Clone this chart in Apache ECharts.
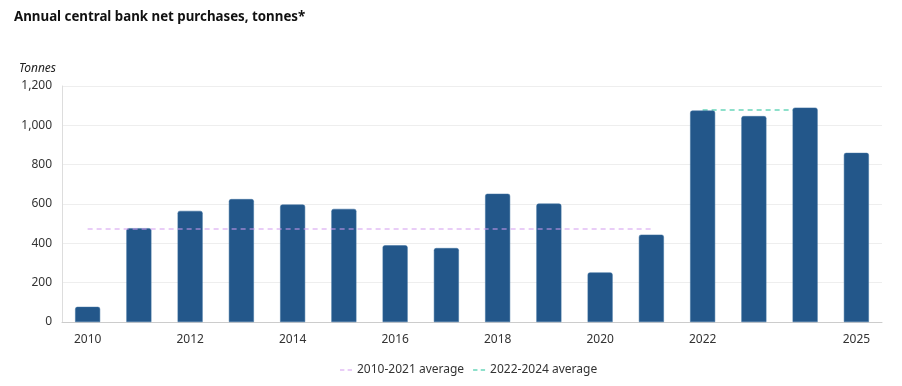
<!DOCTYPE html>
<html><head><meta charset="utf-8">
<script src="https://cdn.jsdelivr.net/npm/echarts@6/dist/echarts.min.js"></script>
<style>html,body{margin:0;padding:0;background:#fff}#c{width:902px;height:386px}</style>
</head><body><div id="c"></div>
<script>
const years = ['2010','2011','2012','2013','2014','2015','2016','2017','2018','2019','2020','2021','2022','2023','2024','2025'];
const purchases = [77, 477, 565, 625, 597, 575, 390, 376, 652, 602, 252, 444, 1075, 1047, 1090, 860];
const avg2010_2021 = [473, 473, 473, 473, 473, 473, 473, 473, 473, 473, 473, 473, null, null, null, null];
const avg2022_2024 = [null, null, null, null, null, null, null, null, null, null, null, null, 1078, 1078, 1078, null];
const xLabelsShown = ['2010','2012','2014','2016','2018','2020','2022','2025'];
const yTicks = [0, 200, 400, 600, 800, 1000, 1200];

const chart = echarts.init(document.getElementById('c'));
const font = '"Noto Sans", "Open Sans", sans-serif';
chart.setOption({
  animation: false,
  textStyle: {fontFamily: font},
  title: {
    text: 'Annual central bank net purchases, tonnes*',
    left: 9, top: 6,
    textStyle: {fontSize: 13.3, fontWeight: 'bold', color: '#111', fontFamily: font}
  },
  legend: {
    bottom: 5, left: 335,
    itemWidth: 12, itemHeight: 8, itemGap: 9,
    textStyle: {fontSize: 12, color: '#333'},
    data: [
      {name: '2010-2021 average', icon: 'path://M0,4 L4,4 L4,5 L0,5 Z M7,4 L11,4 L11,5 L7,5 Z'},
      {name: '2022-2024 average', icon: 'path://M0,4 L4,4 L4,5 L0,5 Z M7,4 L11,4 L11,5 L7,5 Z'}
    ]
  },
  grid: {left: 62, right: 20, top: 86, bottom: 64, containLabel: false},
  xAxis: {
    type: 'category', data: years, boundaryGap: true,
    axisLine: {lineStyle: {color: '#ccc'}},
    axisTick: {show: false},
    axisLabel: {
      color: '#333', fontSize: 12, margin: 12,
      interval: (i, v) => xLabelsShown.includes(v)
    }
  },
  yAxis: {
    type: 'value', min: yTicks[0], max: yTicks[yTicks.length - 1], interval: 200,
    name: 'Tonnes', nameLocation: 'end', nameGap: 11,
    nameTextStyle: {fontStyle: 'italic', fontSize: 12, color: '#222', align: 'right', padding: [0, 6, 0, 0]},
    axisLine: {show: true, lineStyle: {color: '#ddd'}},
    axisTick: {show: false},
    axisLabel: {color: '#333', fontSize: 12, margin: 10,
      formatter: v => v.toLocaleString('en-US')},
    splitLine: {lineStyle: {color: '#eee'}}
  },
  series: [
    {
      type: 'bar', name: 'Purchases', data: purchases, barWidth: 25,
      itemStyle: {color: '#23578a', borderColor: '#3b6e9e', borderWidth: 0.5, borderRadius: [2, 2, 0, 0]},
      z: 2
    },
    {
      type: 'line', name: '2010-2021 average', data: avg2010_2021,
      symbol: 'none', connectNulls: false,
      lineStyle: {color: '#d39cf0', width: 1.2, type: [5, 4]},
      itemStyle: {color: '#d39cf0'}, z: 3
    },
    {
      type: 'line', name: '2022-2024 average', data: avg2022_2024,
      symbol: 'none', connectNulls: false,
      lineStyle: {color: '#1fc297', width: 1.2, type: [5, 4]},
      itemStyle: {color: '#1fc297'}, z: 1
    }
  ]
});
</script></body></html>
